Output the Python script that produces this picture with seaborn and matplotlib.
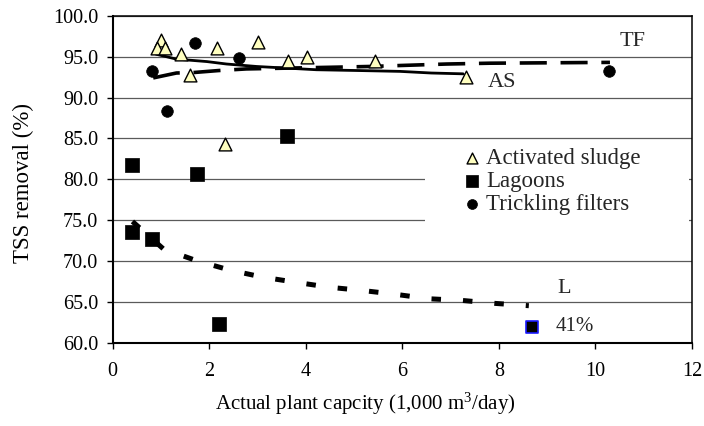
import numpy as np
import pandas as pd
import matplotlib
matplotlib.use("Agg")
import matplotlib.pyplot as plt
from matplotlib.patches import Rectangle
from matplotlib.ticker import FormatStrFormatter
import seaborn as sns

# Plant capacity (1,000 m3/day) and TSS removal (%) per treatment type
as_capacity = [1.01, 0.91, 1.08, 1.41, 2.17, 3.01, 3.64, 4.02, 5.43, 1.60, 2.33, 7.31]
as_removal = [97.0, 96.05, 96.1, 95.3, 96.05, 96.8, 94.5, 94.95, 94.5, 92.7, 84.35, 92.5]

lagoon_capacity = [0.41, 1.74, 3.61, 0.41, 0.82, 2.21]
lagoon_removal = [81.8, 80.65, 85.3, 73.55, 72.7, 62.35]
# lagoon plant whose removal lies below the plotted range
lagoon_low_capacity = 8.68
lagoon_low_removal = 41.0

tf_capacity = [0.81, 1.70, 2.62, 1.12, 10.27]
tf_removal = [93.3, 96.66, 94.8, 88.3, 93.3]

# Logarithmic trend lines
tf_trend_x = [0.84, 1.32, 1.70, 2.19, 2.77, 4.5, 5.33, 6.92, 7.81, 10.3]
tf_trend_y = [92.4, 93.0, 93.07, 93.3, 93.5, 93.7, 93.8, 94.1, 94.2, 94.3]
as_trend_x = [0.9, 1.32, 1.95, 2.36, 2.98, 4.22, 5.12, 5.95, 6.6, 7.26]
as_trend_y = [95.3, 94.7, 94.4, 94.1, 93.8, 93.4, 93.3, 93.2, 93.0, 92.9]
l_trend_x = [0.41, 1.05, 1.74, 2.43, 3.1, 3.81, 4.5, 5.19, 5.85, 6.55, 7.23, 7.93, 8.62]
l_trend_y = [74.85, 71.5, 70.05, 68.9, 68.05, 67.4, 66.8, 66.4, 65.95, 65.4, 65.2, 64.83, 64.55]

x_ticks = [0, 2, 4, 6, 8, 10, 12]
y_ticks = [60, 65, 70, 75, 80, 85, 90, 95, 100]

sns.set_theme(style="white")
plt.rcParams["font.family"] = ["Liberation Serif", "DejaVu Serif"]
plt.rcParams["mathtext.default"] = "regular"

fig = plt.figure(figsize=(7.04, 4.26), dpi=100)
ax = fig.add_axes([0.160, 0.195, 0.823, 0.768])

ax.set_xlim(0, 12)
ax.set_ylim(60, 100)
ax.set_xticks(x_ticks)
ax.set_yticks(y_ticks)
ax.yaxis.set_major_formatter(FormatStrFormatter("%.1f"))
ax.grid(axis="y", color="#5a5a5a", linewidth=0.9, zorder=0)
ax.set_axisbelow(True)

# white panel behind the legend
ax.add_patch(Rectangle((0.539, 0.33), 0.456, 0.285, transform=ax.transAxes,
                       facecolor="white", edgecolor="none", zorder=1.5))

sns.lineplot(x=tf_trend_x, y=tf_trend_y, ax=ax, color="black", linewidth=2.6,
             linestyle=(0, (7.5, 3.8)), estimator=None, sort=False, zorder=2)
sns.lineplot(x=as_trend_x, y=as_trend_y, ax=ax, color="black", linewidth=2.0,
             estimator=None, sort=False, zorder=2)
sns.lineplot(x=l_trend_x, y=l_trend_y, ax=ax, color="black", linewidth=3.6,
             linestyle=(0, (1.9, 4.4)), estimator=None, sort=False, zorder=2)

sns.scatterplot(x=as_capacity, y=as_removal, ax=ax, marker="^", s=85,
                color="#ffffc0", edgecolor="black", linewidth=1.0,
                label="Activated sludge", zorder=3)
sns.scatterplot(x=lagoon_capacity, y=lagoon_removal, ax=ax, marker="s", s=110,
                color="black", edgecolor="black", linewidth=0.5,
                label="Lagoons", zorder=3)
sns.scatterplot(x=tf_capacity, y=tf_removal, ax=ax, marker="o", s=70,
                color="black", edgecolor="black", linewidth=0.5,
                label="Trickling filters", zorder=3)

# off-scale lagoon value shown at the floor of the axis
floor_y = max(lagoon_low_removal, 62.0)
sns.scatterplot(x=[lagoon_low_capacity], y=[floor_y], ax=ax, marker="s", s=80,
                color="black", edgecolor="#1a1aff", linewidth=1.2, zorder=3)
ax.text(lagoon_low_capacity + 0.5, floor_y, f"{lagoon_low_removal:.0f}%",
        fontsize=15, va="center", ha="left")

ax.text(10.77, 96.8, "TF", fontsize=16, ha="center", va="center")
ax.text(8.06, 91.9, "AS", fontsize=16, ha="center", va="center")
ax.text(9.36, 66.6, "L", fontsize=16, ha="center", va="center")

leg = ax.legend(loc="upper left", bbox_to_anchor=(0.578, 0.645), frameon=False,
                fontsize=16.5, handlelength=0.7, handletextpad=0.3,
                labelspacing=0.08, borderpad=0.2, markerscale=0.85)

for side in ["left", "bottom"]:
    ax.spines[side].set_linewidth(1.5)
    ax.spines[side].set_color("black")
for side in ["top", "right"]:
    ax.spines[side].set_linewidth(1.1)
    ax.spines[side].set_color("black")
    ax.spines[side].set_visible(True)

ax.tick_params(axis="both", which="major", direction="out", length=4.5,
               width=1.0, color="black", labelsize=14.5, labelcolor="black",
               left=True, bottom=True)
ax.tick_params(axis="x", pad=9)
ax.tick_params(axis="y", pad=6)

ax.set_xlabel("Actual plant capcity (1,000 m$^3$/day)", fontsize=15, color="black")
ax.set_ylabel("TSS removal (%)", fontsize=16.5, color="black")
ax.xaxis.set_label_coords(0.4355, -0.145)
ax.yaxis.set_label_coords(-0.136, 0.49)

fig.savefig("out.png", dpi=100)
